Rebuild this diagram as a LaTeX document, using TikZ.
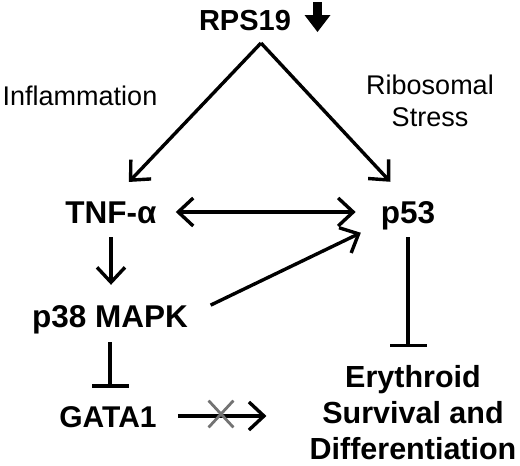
\documentclass[tikz,border=0pt]{standalone}
\usepackage{fontspec}
\setmainfont{Liberation Sans}
\usetikzlibrary{arrows.meta, positioning, shapes.misc}

\tikzset{
  barb/.tip={Straight Barb[length=15pt, width=28pt]},
  gene/.style={font=\fontsize{31.5}{36}\selectfont\bfseries, inner sep=0pt, text height=22pt, text depth=0pt, anchor=base},
  fate/.style={font=\fontsize{30.5}{36}\selectfont\bfseries, inner sep=0pt, align=center},
  cue/.style={font=\fontsize{27}{32}\selectfont, inner sep=0pt, align=center},
  act/.style={line width=3.4pt, -barb},
  dbl/.style={line width=3.4pt, barb-barb},
  inh/.style={line width=3.4pt, -{Bar[width=37pt]}},
  nogo/.style={cross out, draw=black!55, line width=2.8pt, minimum width=22pt, minimum height=24pt, inner sep=0pt}
}

\begin{document}
\begin{tikzpicture}[x=1pt, y=-1pt]
\useasboundingbox (0,0) rectangle (520,466);

% top: RPS19 and its down arrow
\node[gene, font=\fontsize{29}{34}\selectfont\bfseries] (rps) at (245,30) {RPS19};
\fill (313,2) rectangle (322,16);
\fill (304.5,15) -- (330.5,15) -- (317.5,32) -- cycle;
\coordinate (apex) at (261,43);

% side labels
\node[cue, anchor=base] (infl) at (80,105) {Inflammation};
\node[cue, anchor=north] (ribo) at (430,75) {Ribosomal\\Stress};

% players
\node[gene] (tnf) at (111,223) {TNF-α};
\node[gene] (p53) at (408,223) {p53};
\node[gene] (p38) at (110,327) {p38 MAPK};
\node[gene, font=\fontsize{30}{36}\selectfont\bfseries] (gata) at (108,427) {GATA1};
\node[fate, anchor=north] (ery) at (413,365) {Erythroid\\Survival and\\Differentiation};

% connectors
\draw[act, shorten >=26pt] (apex) -- (tnf.north);
\draw[act, shorten >=26pt] (apex) -- (p53.north);
\draw[dbl, shorten <=19pt, shorten >=25pt] (tnf.east) -- (p53.west);
\draw[act, shorten <=14pt, shorten >=20pt] (tnf.south) -- (tnf.south |- p38.north);
\draw[act, shorten <=25pt, shorten >=22pt] (p38.east) -- (p53.south west);
\draw[inh, shorten <=15pt, shorten >=17pt] (p38.south) -- (p38.south |- gata.north);
\draw[inh, shorten <=14pt, shorten >=18pt] (p53.south) -- (p53.south |- ery.north);
\draw[act, shorten <=21pt, shorten >=43pt] (gata.east) -- (gata.east -| ery.west);
\node[nogo] (cut) at (221,414) {};
\end{tikzpicture}
\end{document}
